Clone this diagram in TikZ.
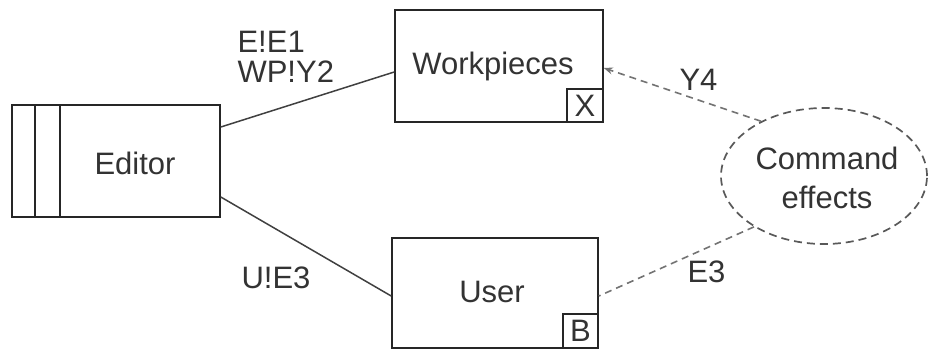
\documentclass[tikz,border=0pt]{standalone}
\usepackage{fontspec}
\setmainfont{Liberation Sans}
\usetikzlibrary{shapes.geometric,arrows.meta}
\begin{document}
\begin{tikzpicture}[x=1pt,y=-1pt,
  box/.style={draw=black!85,line width=1.6pt,rectangle,inner sep=0pt},
  lbl/.style={font=\fontsize{31}{34}\selectfont,text=black!80},
  conn/.style={draw=black!75,line width=1.5pt},
  dconn/.style={draw=black!55,line width=1.6pt,dash pattern=on 7pt off 5pt}]
\useasboundingbox (0,0) rectangle (929,349);
% Editor
\node[box,minimum width=208pt,minimum height=112pt] (ed) at (116,161) {};
\draw[line width=1.6pt,black!85] (35,105) -- (35,217) (60,105) -- (60,217);
\node[lbl] (edt) at (135,163) {Editor};
% Workpieces
\node[box,minimum width=208pt,minimum height=112pt] (wp) at (499,66) {};
\node[lbl] at (493,66) {Workpieces};
\node[box,minimum width=36pt,minimum height=33pt,anchor=south east,lbl] (x) at (wp.south east) {X};
% User
\node[box,minimum width=206pt,minimum height=110pt] (us) at (495,293) {};
\node[lbl] at (492,292) {User};
\node[box,minimum width=35pt,minimum height=34pt,anchor=south east,lbl] (b) at (us.south east) {B};
% Command effects
\node[ellipse,draw=black!65,line width=1.7pt,dash pattern=on 8pt off 5pt,minimum width=206pt,minimum height=136pt,inner sep=0pt] (ce) at (824,176) {};
\node[lbl,align=center] at (827,178) {Command\\[5pt]effects};
% connectors
\draw[conn] (ed.east |- 0,127) -- (wp.west |- 0,72);
\draw[conn] (ed.east |- 0,197) -- (us.west |- 0,296);
\draw[dconn,-{Stealth[length=9pt,width=7pt]}] (ce.139) -- (wp.east |- 0,68);
\draw[dconn] (ce.216) -- (us.east |- 0,296);
% labels
\node[lbl,anchor=west,align=left] (l1) at (234,57) {E!E1\\[-4pt]WP!Y2};
\node[lbl,anchor=west] (l2) at (238,278) {U!E3};
\node[lbl,anchor=west] (l3) at (676,80) {Y4};
\node[lbl,anchor=west] (l4) at (684,272) {E3};
\end{tikzpicture}
\end{document}
